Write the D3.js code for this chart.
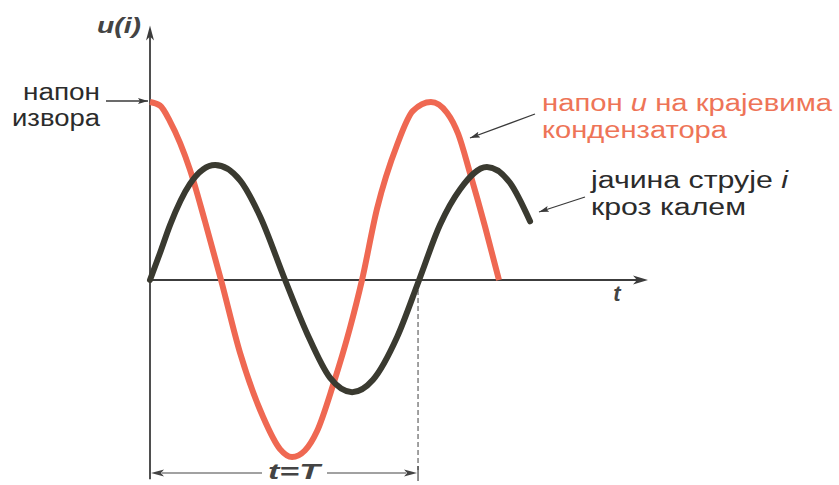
<!DOCTYPE html>
<html>
<head>
<meta charset="utf-8">
<script src="https://cdn.jsdelivr.net/npm/d3@7"></script>
<style>
  html, body { margin: 0; padding: 0; background: #fff; }
  svg { display: block; }
  text { font-family: "Liberation Sans", Arial, sans-serif; }
</style>
</head>
<body>
<svg id="chart" width="839" height="485"></svg>
<script>
// Time in units of the period T; values relative to the source voltage amplitude.
const tVoltage = [0, 0.037, 0.075, 0.149, 0.205, 0.265, 0.336, 0.422, 0.485, 0.530, 0.578, 0.623, 0.683, 0.746, 0.791, 0.847, 0.922, 0.981, 1.048, 1.108, 1.150, 1.194, 1.250, 1.302];
const uVoltage = [1.00, 0.98, 0.89, 0.62, 0.33, 0, -0.41, -0.77, -0.95, -0.995, -0.958, -0.85, -0.59, -0.27, 0, 0.40, 0.76, 0.95, 1.00, 0.94, 0.82, 0.60, 0.30, 0];

const tCurrent = [0, 0.037, 0.075, 0.149, 0.243, 0.336, 0.410, 0.504, 0.586, 0.672, 0.754, 0.832, 0.922, 1.004, 1.082, 1.157, 1.257, 1.343, 1.418];
const iCurrent = [0, 0.15, 0.31, 0.54, 0.646, 0.56, 0.36, 0, -0.30, -0.55, -0.63, -0.56, -0.32, 0, 0.31, 0.51, 0.635, 0.546, 0.33];

const tAxisEnd = 1.858;   // extent of the time axis
const vAxisTop = 1.43;    // top of the u(i) axis
const vAxisBottom = -1.12;
const periodT = 1;        // t = T

const labelSource = ["напон", "извора"];
const labelVoltage = ["напон ", "u", " на крајевима"];
const labelVoltage2 = "кондензатора";
const labelCurrent = ["јачина струје ", "i"];
const labelCurrent2 = "кроз калем";

const RED = "#ef6852";
const RED_TEXT = "#ee7457";
const DARK = "#3a3a30";
const AXIS = "#3c3c3c";

const svg = d3.select("#chart");

const x = d3.scaleLinear().domain([0, tAxisEnd]).range([150, 648]);
const y = d3.scaleLinear().domain([-1, 1]).range([458, 102]);

// arrowhead marker for annotation pointers
const defs = svg.append("defs");
defs.append("marker")
  .attr("id", "tip")
  .attr("viewBox", "0 0 10 6")
  .attr("refX", 10).attr("refY", 3)
  .attr("markerWidth", 10).attr("markerHeight", 6)
  .attr("markerUnits", "userSpaceOnUse")
  .attr("orient", "auto")
  .append("path").attr("d", "M0,0L10,3L0,6L2,3Z").attr("fill", "#3a3a3a");

// axes
const axes = svg.append("g").attr("stroke", AXIS).attr("stroke-width", 1.8);
axes.append("line")
  .attr("x1", x(0)).attr("x2", x(tAxisEnd) - 8)
  .attr("y1", y(0)).attr("y2", y(0));
axes.append("line")
  .attr("x1", x(0)).attr("x2", x(0))
  .attr("y1", y(vAxisBottom)).attr("y2", y(vAxisTop) + 8);
svg.append("path")
  .attr("d", `M${x(tAxisEnd)},${y(0)}L${x(tAxisEnd) - 15},${y(0) - 4.5}L${x(tAxisEnd) - 11},${y(0)}L${x(tAxisEnd) - 15},${y(0) + 4.5}Z`)
  .attr("fill", AXIS);
svg.append("path")
  .attr("d", `M${x(0)},${y(vAxisTop)}L${x(0) - 4},${y(vAxisTop) + 15}L${x(0)},${y(vAxisTop) + 11}L${x(0) + 4},${y(vAxisTop) + 15}Z`)
  .attr("fill", AXIS);

// dashed marker at t = T
svg.append("line")
  .attr("x1", x(periodT)).attr("x2", x(periodT))
  .attr("y1", y(0) + 2).attr("y2", 470)
  .attr("stroke", "#555").attr("stroke-width", 1.1)
  .attr("stroke-dasharray", "5,3");

// curves
const line = d3.line()
  .x(d => x(d[0]))
  .y(d => y(d[1]))
  .curve(d3.curveMonotoneX);

const voltage = d3.zip(tVoltage, uVoltage);
const current = d3.zip(tCurrent, iCurrent);

svg.append("path")
  .datum(voltage)
  .attr("d", line)
  .attr("fill", "none")
  .attr("stroke", RED)
  .attr("stroke-width", 6)
  .attr("stroke-linecap", "butt");

svg.append("path")
  .datum(current)
  .attr("d", line)
  .attr("fill", "none")
  .attr("stroke", DARK)
  .attr("stroke-width", 6)
  .attr("stroke-linecap", "round");

// axis titles
svg.append("text")
  .attr("x", 141).attr("y", 33)
  .attr("text-anchor", "end")
  .attr("font-size", 22).attr("font-weight", "bold").attr("font-style", "italic")
  .attr("fill", "#444")
  .attr("textLength", 44).attr("lengthAdjust", "spacingAndGlyphs")
  .text("u(i)");
svg.append("text")
  .attr("x", 617).attr("y", 301)
  .attr("text-anchor", "middle")
  .attr("font-size", 22).attr("font-weight", "bold").attr("font-style", "italic")
  .attr("fill", "#444")
  .text("t");

// period bracket
const bracketY = 473;
svg.append("line")
  .attr("x1", x(0) + 12).attr("x2", 262)
  .attr("y1", bracketY).attr("y2", bracketY)
  .attr("stroke", "#444").attr("stroke-width", 1.2);
svg.append("line")
  .attr("x1", 327).attr("x2", x(periodT) - 12)
  .attr("y1", bracketY).attr("y2", bracketY)
  .attr("stroke", "#444").attr("stroke-width", 1.2);
svg.append("path")
  .attr("d", `M${x(0) + 1},${bracketY}L${x(0) + 14},${bracketY - 3.5}L${x(0) + 11},${bracketY}L${x(0) + 14},${bracketY + 3.5}Z`)
  .attr("fill", "#444");
svg.append("path")
  .attr("d", `M${x(periodT) - 1},${bracketY}L${x(periodT) - 14},${bracketY - 3.5}L${x(periodT) - 11},${bracketY}L${x(periodT) - 14},${bracketY + 3.5}Z`)
  .attr("fill", "#444");
svg.append("line")
  .attr("x1", x(periodT)).attr("x2", x(periodT))
  .attr("y1", 466).attr("y2", 481)
  .attr("stroke", "#444").attr("stroke-width", 1.2);
svg.append("text")
  .attr("x", 294).attr("y", 479)
  .attr("text-anchor", "middle")
  .attr("font-size", 22).attr("font-weight", "bold").attr("font-style", "italic")
  .attr("fill", "#444")
  .attr("textLength", 52).attr("lengthAdjust", "spacingAndGlyphs")
  .text("t=T");

// source voltage label
const src = svg.append("g").attr("fill", "#2b2b2b").attr("font-size", 23);
src.append("text").attr("x", 100).attr("y", 100).attr("text-anchor", "end")
  .attr("textLength", 77).attr("lengthAdjust", "spacingAndGlyphs").text(labelSource[0]);
src.append("text").attr("x", 100).attr("y", 126).attr("text-anchor", "end")
  .attr("textLength", 88).attr("lengthAdjust", "spacingAndGlyphs").text(labelSource[1]);
svg.append("line")
  .attr("x1", 106).attr("y1", y(uVoltage[0]) - 1)
  .attr("x2", x(0) - 2).attr("y2", y(uVoltage[0]) - 1)
  .attr("stroke", "#3a3a3a").attr("stroke-width", 1.3)
  .attr("marker-end", "url(#tip)");

// capacitor voltage label
const vl = svg.append("g").attr("fill", RED_TEXT).attr("font-size", 23);
const vt = vl.append("text").attr("x", 542).attr("y", 111)
  .attr("textLength", 290).attr("lengthAdjust", "spacingAndGlyphs");
vt.append("tspan").text(labelVoltage[0]);
vt.append("tspan").attr("font-style", "italic").text(labelVoltage[1]);
vt.append("tspan").text(labelVoltage[2]);
vl.append("text").attr("x", 542).attr("y", 138)
  .attr("textLength", 185).attr("lengthAdjust", "spacingAndGlyphs").text(labelVoltage2);
svg.append("line")
  .attr("x1", 535).attr("y1", 114).attr("x2", 470).attr("y2", 138)
  .attr("stroke", "#3a3a3a").attr("stroke-width", 1.3)
  .attr("marker-end", "url(#tip)");

// inductor current label
const cl = svg.append("g").attr("fill", "#2b2b2b").attr("font-size", 23);
const ct = cl.append("text").attr("x", 591).attr("y", 188)
  .attr("textLength", 197).attr("lengthAdjust", "spacingAndGlyphs");
ct.append("tspan").text(labelCurrent[0]);
ct.append("tspan").attr("font-style", "italic").text(labelCurrent[1]);
cl.append("text").attr("x", 591).attr("y", 215)
  .attr("textLength", 155).attr("lengthAdjust", "spacingAndGlyphs").text(labelCurrent2);
svg.append("line")
  .attr("x1", 585).attr("y1", 197).attr("x2", 539).attr("y2", 212)
  .attr("stroke", "#3a3a3a").attr("stroke-width", 1.3)
  .attr("marker-end", "url(#tip)");
</script>
</body>
</html>
